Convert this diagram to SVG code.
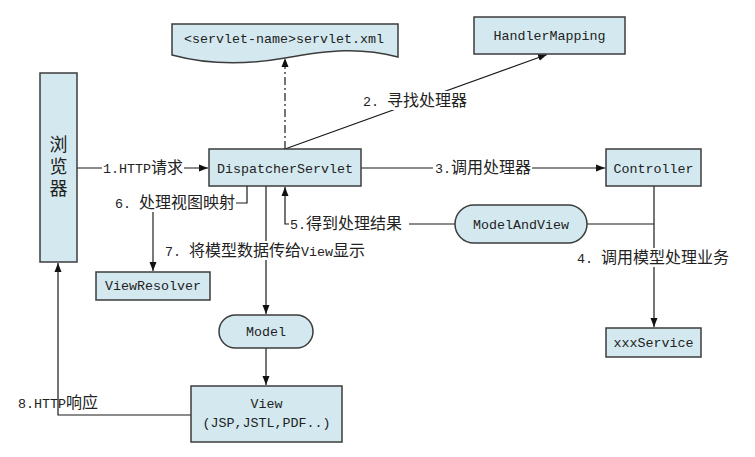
<svg xmlns="http://www.w3.org/2000/svg" width="755" height="457" viewBox="0 0 755 457">
<defs>
<style>
.box{fill:#d3e9ef;stroke:#3c3c3c;stroke-width:1.5}
.t{font-family:"Liberation Mono","Noto Sans CJK SC",monospace;font-size:13.33px;fill:#222}
.c{font-family:"Noto Sans CJK SC",sans-serif;font-size:16px}
.mid{text-anchor:middle}
.ln{fill:none;stroke:#1a1a1a;stroke-width:1.2}
.gray{fill:none;stroke:#7a7a7a;stroke-width:2}
.dd{fill:none;stroke:#1a1a1a;stroke-width:1.2;stroke-dasharray:8 3 2 3}
.bg{fill:#ffffff}
.vert{font-family:"Noto Sans CJK SC",sans-serif;font-size:18px;fill:#222;writing-mode:vertical-rl;text-anchor:middle;letter-spacing:4px}
</style>
<marker id="arr" markerUnits="userSpaceOnUse" markerWidth="10" markerHeight="8" refX="9" refY="4" orient="auto">
<path d="M0,0.5 L9,4 L0,7.5 Z" fill="#111"/>
</marker>
</defs>
<rect width="755" height="457" fill="#ffffff"/>

<g id="connectors">
<path class="ln" d="M77,168 H208" marker-end="url(#arr)"/>
<path class="dd" d="M285,149 V58" marker-end="url(#arr)"/>
<path class="ln" d="M285,149 L547,54.5" marker-end="url(#arr)"/>
<path class="ln" d="M361,168 H605" marker-end="url(#arr)"/>
<path class="ln" d="M654,186 V327" marker-end="url(#arr)"/>
<path class="ln" d="M654,224 H587"/>
<path class="ln" d="M455,224 H285 V187" marker-end="url(#arr)"/>
<path class="ln" d="M247,186 V203 H236"/>
<path class="gray" d="M153,212 V271" marker-end="url(#arr)"/>
<path class="ln" d="M266,186 V314" marker-end="url(#arr)"/>
<path class="ln" d="M266,348 V385" marker-end="url(#arr)"/>
<path class="ln" d="M191,415 H58 V263" marker-end="url(#arr)"/>

<rect class="bg" x="102" y="159" width="82" height="18"/>
<text class="t" x="103" y="173">1.HTTP<tspan class="c">请求</tspan></text>
<rect class="bg" x="361" y="91" width="111" height="19"/>
<text class="t" x="363" y="106">2. <tspan class="c">寻找处理器</tspan></text>
<rect class="bg" x="433" y="159" width="99" height="18"/>
<text class="t" x="435" y="173">3.<tspan class="c">调用处理器</tspan></text>
<rect class="bg" x="575" y="248" width="155" height="19"/>
<text class="t" x="577" y="263">4. <tspan class="c">调用模型处理业务</tspan></text>
<rect class="bg" x="289" y="215" width="120" height="18"/>
<text class="t" x="290" y="229">5.<tspan class="c">得到处理结果</tspan></text>
<text class="t" x="115" y="208">6. <tspan class="c">处理视图映射</tspan></text>
<rect class="bg" x="163" y="241" width="205" height="19"/>
<text class="t" x="165" y="256">7. <tspan class="c">将模型数据传给</tspan>View<tspan class="c">显示</tspan></text>
<text class="t" x="18" y="408">8.HTTP<tspan class="c">响应</tspan></text>
</g>

<g id="browser">
<rect class="box" x="40" y="73" width="37" height="189"/>
<text class="vert" x="58.5" y="168">浏览器</text>
</g>

<g id="servletxml">
<path class="box" d="M172,24 H398 V57 C360,47 330,50 285,58 C240,66 205,64 172,55 Z"/>
<text class="t mid" x="284" y="43">&lt;servlet-name&gt;servlet.xml</text>
</g>

<g id="handlermapping">
<rect class="box" x="474" y="17" width="151" height="37"/>
<text class="t mid" x="549.5" y="40">HandlerMapping</text>
</g>

<g id="dispatcher">
<rect class="box" x="209" y="149" width="152" height="37"/>
<text class="t mid" x="285" y="173">DispatcherServlet</text>
</g>

<g id="controller">
<rect class="box" x="606" y="149" width="95" height="37"/>
<text class="t mid" x="653.5" y="173">Controller</text>
</g>

<g id="modelandview">
<rect class="box" x="455" y="205" width="132" height="38" rx="19" ry="19"/>
<text class="t mid" x="521" y="229">ModelAndView</text>
</g>

<g id="viewresolver">
<rect class="box" x="96" y="272" width="114" height="28"/>
<text class="t mid" x="153" y="290">ViewResolver</text>
</g>

<g id="model">
<rect class="box" x="219" y="315" width="94" height="33" rx="16.5" ry="16.5"/>
<text class="t mid" x="266" y="336">Model</text>
</g>

<g id="view">
<rect class="box" x="191" y="386" width="151" height="56"/>
<text class="t mid" x="266.5" y="408">View</text>
<text class="t mid" x="266.5" y="427">(JSP,JSTL,PDF..)</text>
</g>

<g id="xxxservice">
<rect class="box" x="606" y="328" width="95" height="29"/>
<text class="t mid" x="653.5" y="347">xxxService</text>
</g>
</svg>
